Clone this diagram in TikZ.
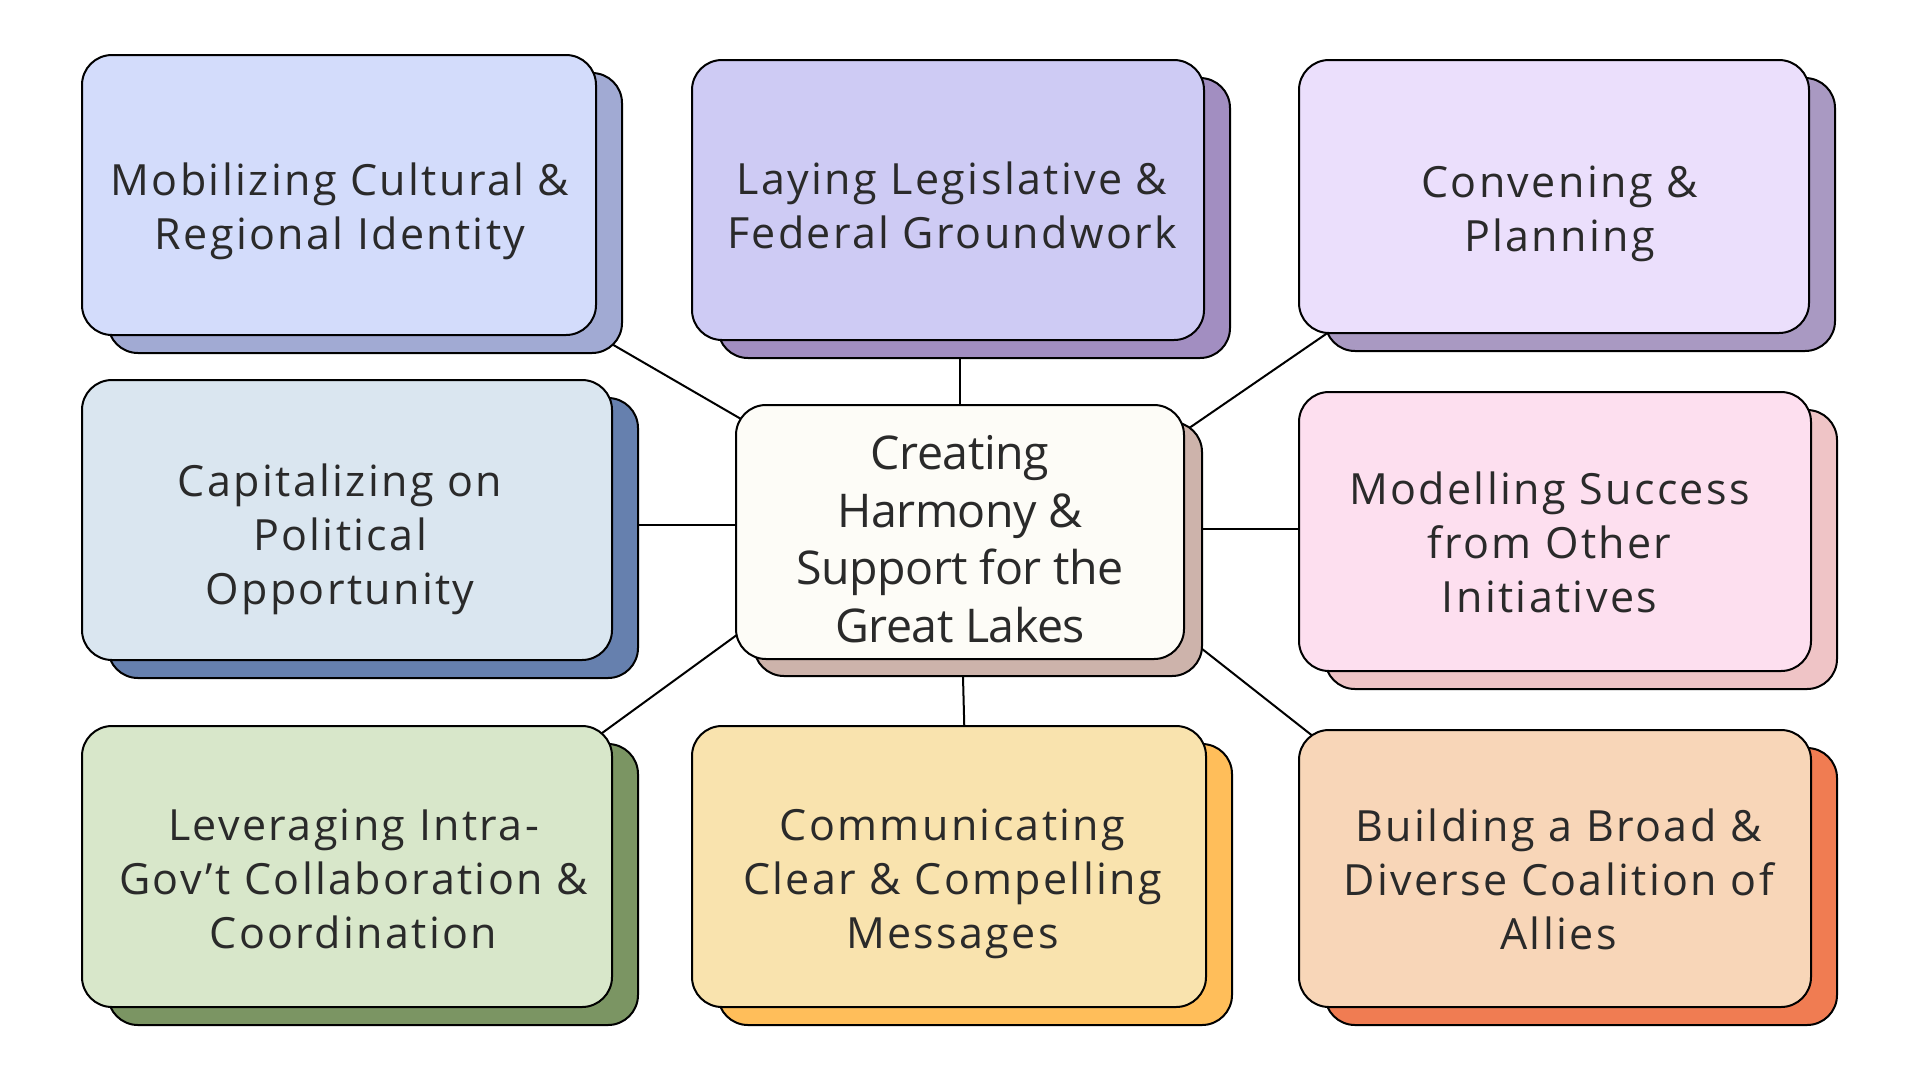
\documentclass[tikz,border=0pt]{standalone}
\usepackage{fontspec}
\setmainfont{Open Sans}
\newfontfamily\outerfont[LetterSpace=5.5]{Open Sans}
\newfontfamily\centerfont[LetterSpace=-1]{Open Sans}
\usetikzlibrary{shadows}
\pgfdeclarelayer{bgzero}
\pgfdeclarelayer{bgone}
\pgfsetlayers{bgzero,bgone,main}
\definecolor{txt}{HTML}{2A2A2A}
\definecolor{tlF}{HTML}{D3DCFB}\definecolor{tlS}{HTML}{A1AAD3}
\definecolor{tmF}{HTML}{CECBF4}\definecolor{tmS}{HTML}{A28EC1}
\definecolor{trF}{HTML}{EBDFFC}\definecolor{trS}{HTML}{A999C2}
\definecolor{mlF}{HTML}{DAE6F0}\definecolor{mlS}{HTML}{6680AE}
\definecolor{cF}{HTML}{FDFCF7}\definecolor{cS}{HTML}{CDB3AB}
\definecolor{mrF}{HTML}{FDDFEF}\definecolor{mrS}{HTML}{EFC4C6}
\definecolor{blF}{HTML}{D8E7CA}\definecolor{blS}{HTML}{7B9563}
\definecolor{bmF}{HTML}{F9E3AE}\definecolor{bmS}{HTML}{FFBE5A}
\definecolor{brF}{HTML}{F8D6B8}\definecolor{brS}{HTML}{F07C52}
\tikzset{
  box/.style n args={4}{draw=black, line width=2pt, rounded corners=30pt,
    fill=#1, minimum width=#3, minimum height=#4, inner sep=0pt,
    copy shadow={shadow xshift=26pt, shadow yshift=-18pt, fill=#2, draw=black, line width=2pt}},
  cbox/.style n args={4}{draw=black, line width=2pt, rounded corners=30pt,
    fill=#1, minimum width=#3, minimum height=#4, inner sep=0pt,
    copy shadow={shadow xshift=18pt, shadow yshift=-17pt, fill=#2, draw=black, line width=2pt}},
  outer/.style={font=\outerfont\fontsize{43}{54}\selectfont, text=txt, align=center,
    inner sep=0pt, text height=#1, text depth=10.3pt},
  inner/.style={font=\centerfont\fontsize{46.5}{57.5}\selectfont, text=txt, align=center,
    inner sep=0pt, text height=219.3pt, text depth=10.7pt},
  link/.style={draw=black, line width=2pt}
}
\begin{document}
\begin{tikzpicture}[x=1pt,y=-1pt]
\begin{pgfonlayer}{bgzero}
\fill[white] (0,0) rectangle (1920,1080);
\end{pgfonlayer}
\useasboundingbox (0,0) rectangle (1920,1080);

% boxes
\node[box={tlF}{tlS}{514pt}{280pt}] (tl) at (339,195) {};
\node[box={tmF}{tmS}{512pt}{280pt}] (tm) at (948,200) {};
\node[box={trF}{trS}{510pt}{273pt}] (tr) at (1554,196.5) {};
\node[box={mlF}{mlS}{530pt}{280pt}] (ml) at (347,520) {};
\node[cbox={cF}{cS}{448pt}{254pt}] (c) at (960,532) {};
\node[box={mrF}{mrS}{512pt}{279pt}] (mr) at (1555,531.5) {};
\node[box={blF}{blS}{530pt}{281pt}] (bl) at (347,866.5) {};
\node[box={bmF}{bmS}{514pt}{281pt}] (bm) at (949,866.5) {};
\node[box={brF}{brS}{512pt}{277pt}] (br) at (1555,868.5) {};

% texts
\node[outer=97.7pt] (tlt) at ([shift={(1,11)}]tl.center) {Mobilizing Cultural \&\\Regional Identity};
\node[outer=97.7pt] (tmt) at ([shift={(4,5)}]tm.center) {Laying Legislative \&\\Federal Groundwork};
\node[outer=97.7pt] (trt) at ([shift={(5.5,11.7)}]tr.center) {Convening \&\\Planning};
\node[outer=151.7pt] (mlt) at ([shift={(-7,14)}]ml.center) {Capitalizing on\\Political\\Opportunity};
\node[inner] (ct) at ([shift={(0,5.7)}]c.center) {Creating\\Harmony \&\\Support for the\\Great Lakes};
\node[outer=151.7pt] (mrt) at ([shift={(-5.5,10)}]mr.center) {Modelling Success\\from Other\\Initiatives};
\node[outer=151.7pt] (blt) at ([shift={(6.5,11.7)}]bl.center) {Leveraging Intra-\\Gov’t Collaboration \&\\Coordination};
\node[outer=151.7pt] (bmt) at ([shift={(3.5,11.7)}]bm.center) {Communicating\\Clear \& Compelling\\Messages};
\node[outer=151.7pt] (brt) at ([shift={(3.5,10)}]br.center) {Building a Broad \&\\Diverse Coalition of\\Allies};

% connectors
\begin{pgfonlayer}{bgone}
\draw[link] ([shift={(-140,-67.2)}]c.center) -- ([shift={(111,55.2)}]tl.center);
\draw[link] ([shift={(-0.3,-52)}]c.center) -- ([shift={(11.7,50)}]tm.center);
\draw[link] ([shift={(140,-42.7)}]c.center) -- ([shift={(-104,52.3)}]tr.center);
\draw[link] ([shift={(-140,-6.7)}]c.center) -- ([shift={(103,5.3)}]ml.center);
\draw[link] ([shift={(140,-3.3)}]c.center) -- ([shift={(-105,-2.8)}]mr.center);
\draw[link] ([shift={(-140,42.4)}]c.center) -- ([shift={(103,-22.8)}]bl.center);
\draw[link] ([shift={(1,68)}]c.center) -- ([shift={(17.2,-66.5)}]bm.center);
\draw[link] ([shift={(140,36.6)}]c.center) -- ([shift={(-105,-24.5)}]br.center);
\end{pgfonlayer}
\end{tikzpicture}
\end{document}
